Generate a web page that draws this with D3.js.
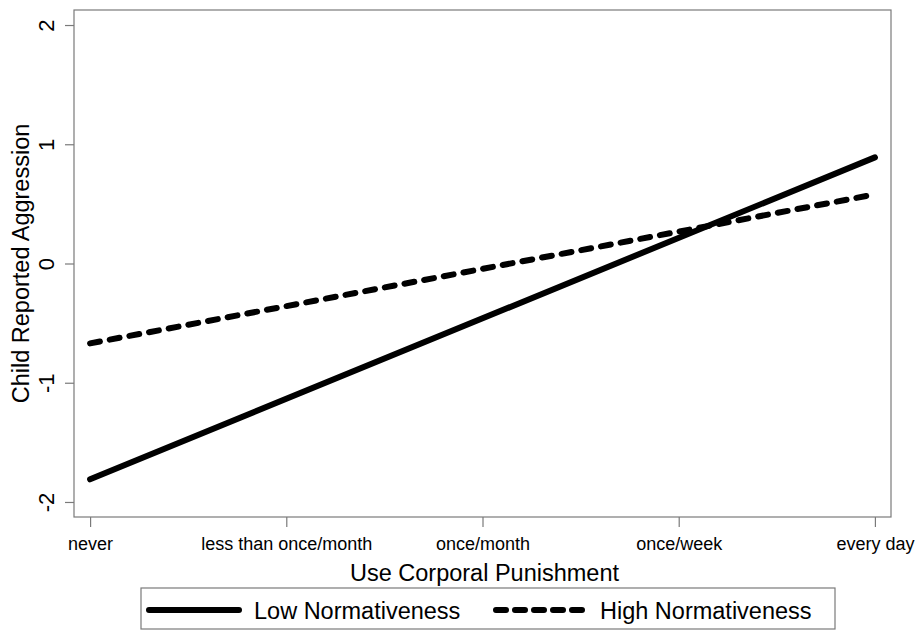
<!DOCTYPE html>
<html><head><meta charset="utf-8">
<script src="https://cdn.jsdelivr.net/npm/d3@7/dist/d3.min.js"></script>
<style>body{margin:0;background:#fff}svg{display:block}text{font-family:"Liberation Sans",Arial,sans-serif;fill:#000}</style>
</head><body><svg id="c" width="922" height="635"></svg>
<script>
const categories = ["never","less than once/month","once/month","once/week","every day"];
const lowNormativeness = [-1.81, null, null, null, 0.89];
const highNormativeness = [-0.67, null, null, null, 0.58];
const yTicks = [-2,-1,0,1,2];
const yTickLabels = ["-2","-1","0","1","2"];
const seriesNames = ["Low Normativeness","High Normativeness"];

const svg = d3.select("#c");
const L=74, R=891, T=10, B=517;
const x = d3.scaleLinear().domain([-0.082,4.082]).range([L,R]);
const y = d3.scaleLinear().domain([-2.126,2.126]).range([B,T]);
const grey="#7a7a7a";

svg.append("rect").attr("x",L).attr("y",T).attr("width",R-L).attr("height",B-T)
  .attr("fill","none").attr("stroke",grey).attr("stroke-width",1.2);

const yAxis = svg.append("g").attr("transform",`translate(${L},0)`)
  .call(d3.axisLeft(y).tickValues(yTicks).tickSize(9).tickFormat((d,i)=>yTickLabels[i]));
yAxis.select(".domain").remove();
yAxis.selectAll("line").attr("stroke",grey).attr("stroke-width",1.2);
yAxis.selectAll("text").attr("font-size",22).attr("text-anchor","middle")
  .attr("transform","rotate(-90)").attr("x",0).attr("y",-20).attr("dy","0");

const xAxis = svg.append("g").attr("transform",`translate(0,${B})`)
  .call(d3.axisBottom(x).tickValues(d3.range(categories.length)).tickSize(10).tickFormat(i=>categories[i]));
xAxis.select(".domain").remove();
xAxis.selectAll("line").attr("stroke",grey).attr("stroke-width",1.2);
xAxis.selectAll("text").attr("font-size",18).attr("y",33).attr("dy","0");

svg.append("text").attr("x",(L+R)/2 + 2).attr("y",581).attr("text-anchor","middle")
  .attr("font-size",23.5).text("Use Corporal Punishment");
svg.append("text").attr("transform",`translate(29,${(T+B)/2}) rotate(-90)`).attr("text-anchor","middle")
  .attr("font-size",23.5).text("Child Reported Aggression");

function pts(arr){return arr.map((v,i)=>[i,v]).filter(d=>d[1]!=null);}
const line = d3.line().x(d=>x(d[0])).y(d=>y(d[1]));
svg.append("path").datum(pts(lowNormativeness)).attr("d",line).attr("fill","none")
  .attr("stroke","#000").attr("stroke-width",6).attr("stroke-linecap","round");
svg.append("path").datum(pts(highNormativeness)).attr("d",line).attr("fill","none")
  .attr("stroke","#000").attr("stroke-width",6).attr("stroke-linecap","round").attr("stroke-dasharray","10 10");

// legend
const lg = svg.append("g");
lg.append("rect").attr("x",141).attr("y",588).attr("width",694).attr("height",41)
  .attr("fill","#fff").attr("stroke",grey).attr("stroke-width",1.2);
const items=[{x0:149,x1:239,tx:254,dash:null},{x0:496,x1:587,tx:600,dash:"10 9"}];
items.forEach((it,i)=>{
  lg.append("line").attr("x1",it.x0).attr("x2",it.x1).attr("y1",610).attr("y2",610)
    .attr("stroke","#000").attr("stroke-width",6).attr("stroke-linecap","round").attr("stroke-dasharray",it.dash);
  lg.append("text").attr("x",it.tx).attr("y",619).attr("font-size",23.5).text(seriesNames[i]);
});
</script></body></html>
